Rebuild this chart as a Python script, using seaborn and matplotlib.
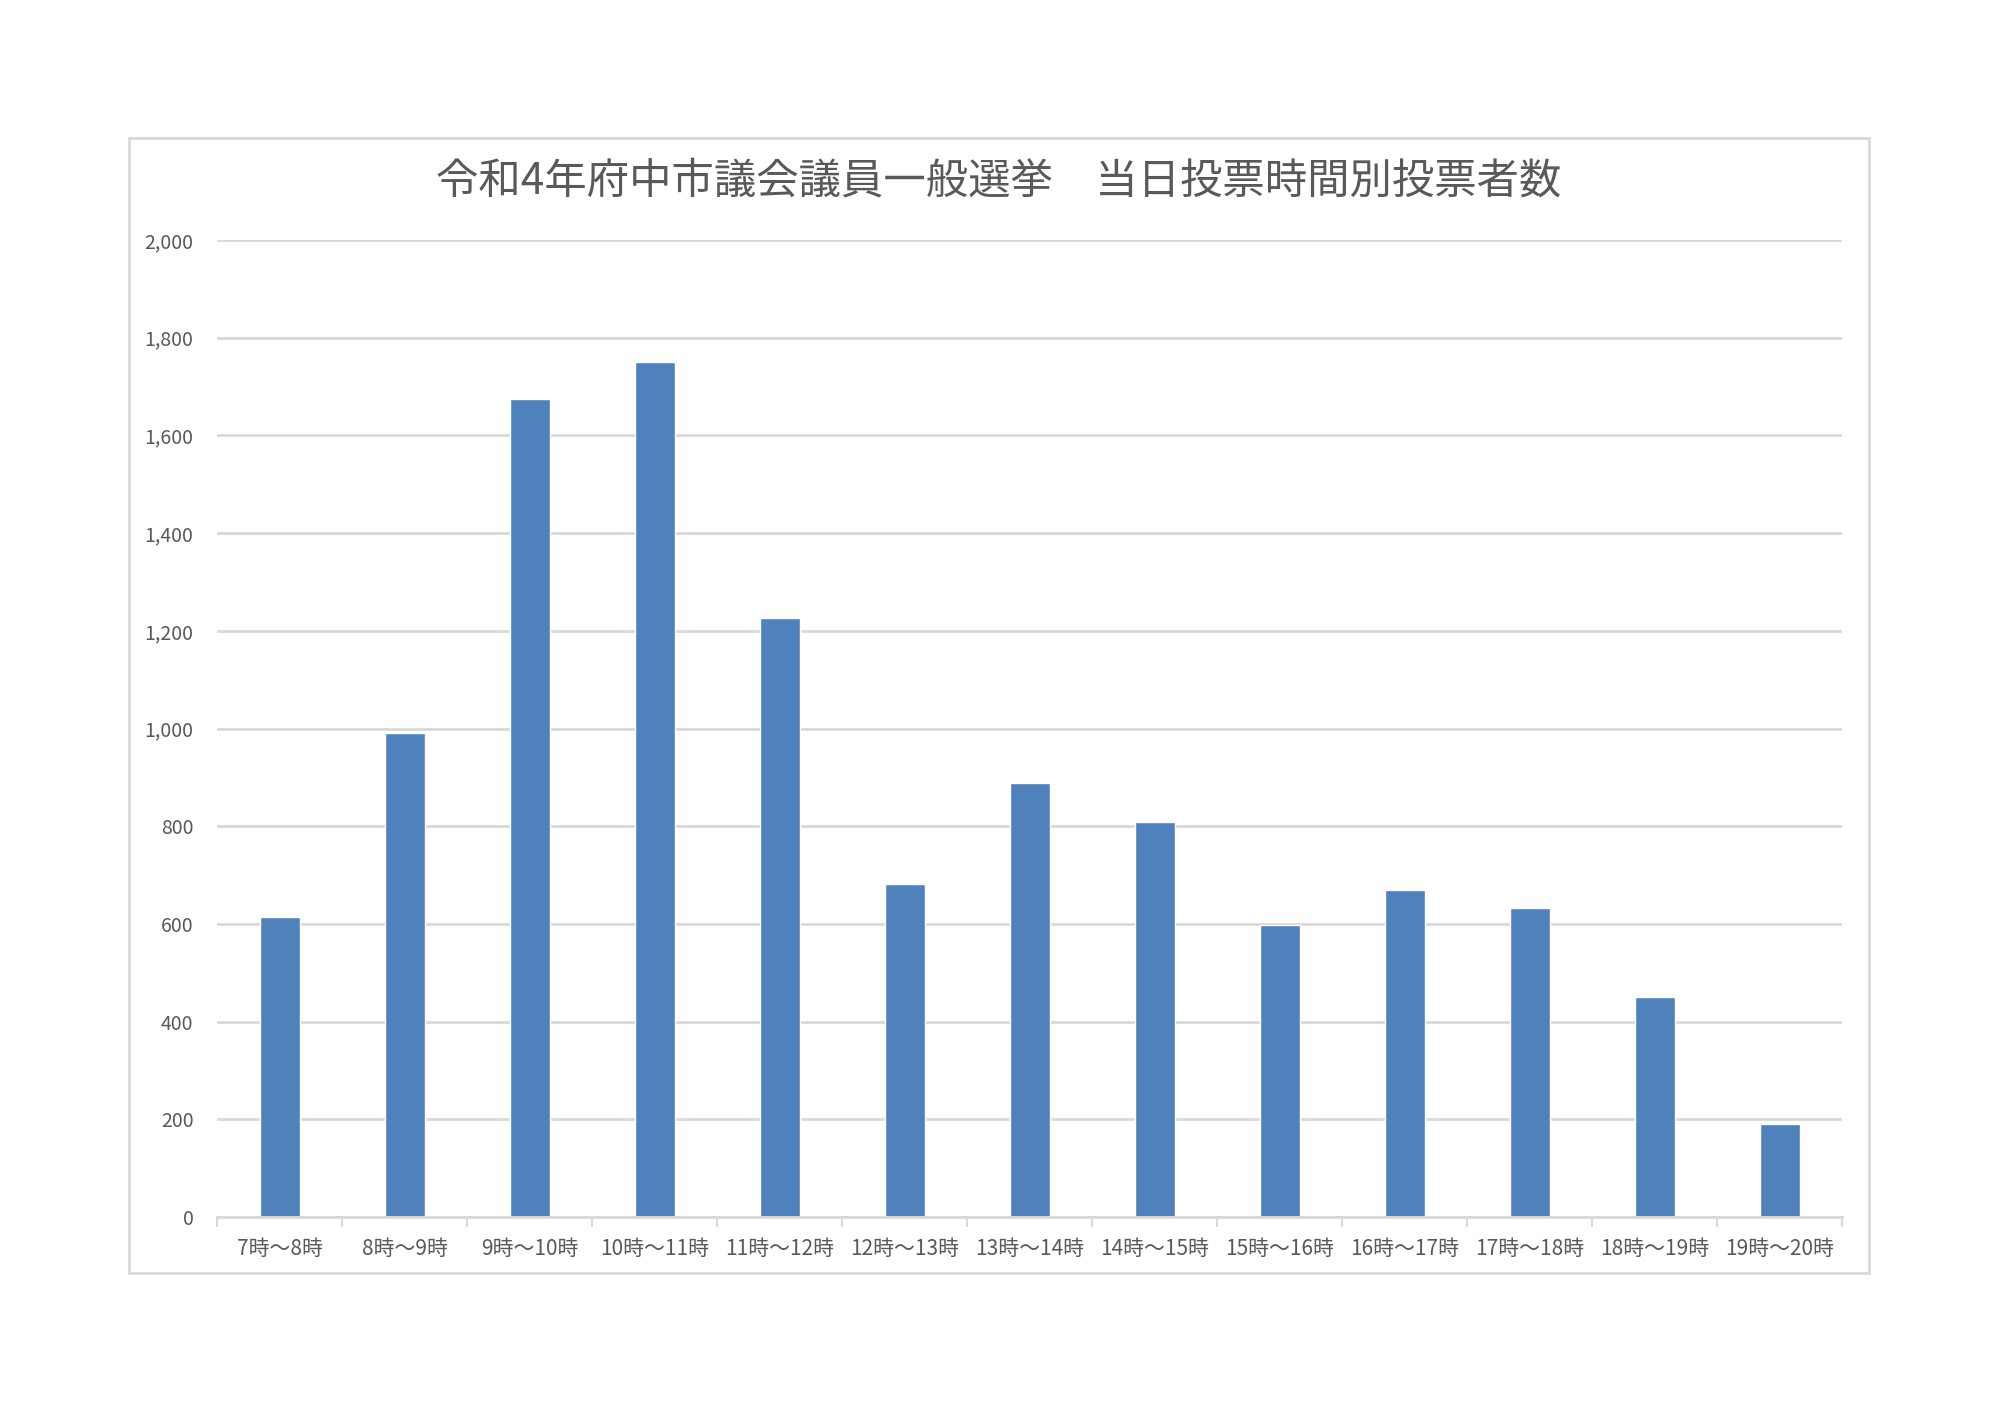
import matplotlib
matplotlib.use("Agg")
import matplotlib.pyplot as plt
import seaborn as sns
import pandas as pd
import numpy as np
from matplotlib.patches import Rectangle
from matplotlib.ticker import FuncFormatter, FixedLocator

title = "令和4年府中市議会議員一般選挙　当日投票時間別投票者数"
categories = ["7時～8時", "8時～9時", "9時～10時", "10時～11時", "11時～12時",
              "12時～13時", "13時～14時", "14時～15時", "15時～16時", "16時～17時",
              "17時～18時", "18時～19時", "19時～20時"]
voters = [614, 990, 1675, 1750, 1227, 682, 889, 808, 598, 670, 632, 451, 191]
y_ticks = [0, 200, 400, 600, 800, 1000, 1200, 1400, 1600, 1800, 2000]

sns.set_theme(style="white")
plt.rcParams['font.family'] = ['Noto Sans CJK JP', 'DejaVu Sans']

df = pd.DataFrame({"time": categories, "voters": voters})

W, H = 2000, 1414
fig = plt.figure(figsize=(20, 14.14), dpi=100)
fig.patch.set_facecolor("white")

# outer chart frame
fx0, fy0, fx1, fy1 = 129, 138, 1869, 1273
fig.patches.append(Rectangle((fx0 / W, 1 - fy1 / H), (fx1 - fx0) / W, (fy1 - fy0) / H,
                             transform=fig.transFigure, fill=False, edgecolor="#d9d9d9", linewidth=2))

ax0, ay0, ax1, ay1 = 217, 240, 1842, 1217
ax = fig.add_axes([ax0 / W, 1 - ay1 / H, (ax1 - ax0) / W, (ay1 - ay0) / H])
sns.barplot(data=df, x="time", y="voters", color="#4F81BD", width=0.32, ax=ax, saturation=1)

ax.set_xlim(-0.5, len(categories) - 0.5)
ax.set_ylim(0, 2000)
ax.set_yticks(y_ticks)
ax.yaxis.set_major_formatter(FuncFormatter(lambda v, p: f"{int(v):,}"))
ax.grid(axis="y", color="#d9d9d9", linewidth=2)
ax.set_axisbelow(True)
for s in ["top", "right", "left"]:
    ax.spines[s].set_visible(False)
ax.spines["bottom"].set_color("#d9d9d9")
ax.spines["bottom"].set_linewidth(2)

ax.tick_params(axis="y", length=0, labelsize=14, labelcolor="#595959", pad=17)
ax.tick_params(axis="x", which="major", length=0, labelsize=15, labelcolor="#595959", pad=15)
ax.xaxis.set_minor_locator(FixedLocator(np.arange(-0.5, len(categories), 1.0)))
ax.tick_params(axis="x", which="minor", length=7, width=1.5, color="#d9d9d9", direction="out", bottom=True)

ax.set_xlabel("")
ax.set_ylabel("")

fig.text(999 / W, 1 - 182 / H, title, ha="center", va="center", fontsize=30.5, color="#595959")

fig.savefig("out.png", dpi=100, facecolor="white")
